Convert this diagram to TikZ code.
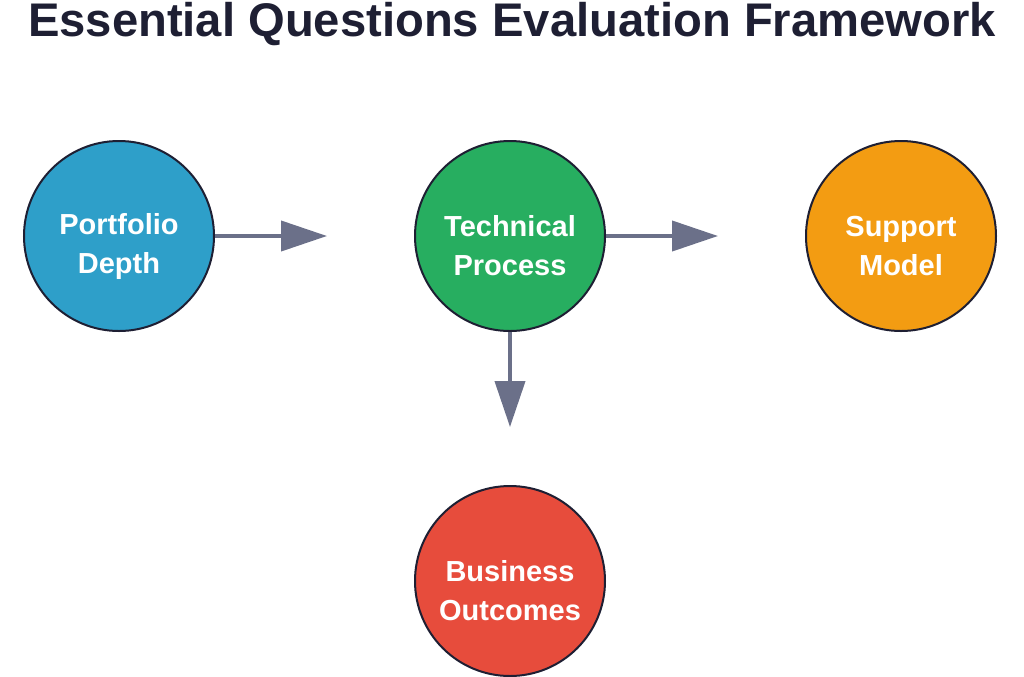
\documentclass[tikz,border=0pt]{standalone}
\usepackage{fontspec}
\setmainfont{Liberation Sans}
\usetikzlibrary{arrows.meta}
\definecolor{portfoliocolor}{HTML}{2E9FC9}
\definecolor{technicalcolor}{HTML}{27AE60}
\definecolor{supportcolor}{HTML}{F39C12}
\definecolor{businesscolor}{HTML}{E74C3C}
\definecolor{linkcolor}{HTML}{6B7089}
\definecolor{titlecolor}{HTML}{1E1F33}
\begin{document}
\begin{tikzpicture}
			[x=0.5pt,y=-0.5pt,
			%Styles
			topic node/.style={circle,draw=titlecolor,line width=1pt,minimum size=95pt,inner sep=0pt,fill=#1},
			topic text/.style={text=white,font=\fontsize{14.5}{19.5}\selectfont\bfseries,align=center},
			link/.style={draw=linkcolor,line width=2pt,-{Triangle[length=23pt,width=15pt]}}
			]
			\useasboundingbox (0,0) rectangle (1024,676);
			
			%The graphic
			\node[text=titlecolor,font=\fontsize{23.6}{28}\selectfont\bfseries] (title) at (512,24) {Essential Questions Evaluation Framework};
			\node[topic node=portfoliocolor] (portfolio) at (119,236) {};
			\node[topic node=technicalcolor] (technical) at (510,236) {};
			\node[topic node=supportcolor] (support) at (901,236) {};
			\node[topic node=businesscolor] (business) at (510,581) {};
			
			\node[topic text] (portfolio text) at (119,246) {Portfolio\\Depth};
			\node[topic text] (technical text) at (510,246) {Technical\\Process};
			\node[topic text] (support text) at (901,246) {Support\\Model};
			\node[topic text] (business text) at (510,591) {Business\\Outcomes};
			
			\coordinate (a1) at (327,236);
			\coordinate (a2) at (718,236);
			\coordinate (a3) at (510,427);
			\draw[link] (portfolio) -- (a1);
			\draw[link] (technical) -- (a2);
			\draw[link] (technical) -- (a3);
		\end{tikzpicture}
\end{document}
